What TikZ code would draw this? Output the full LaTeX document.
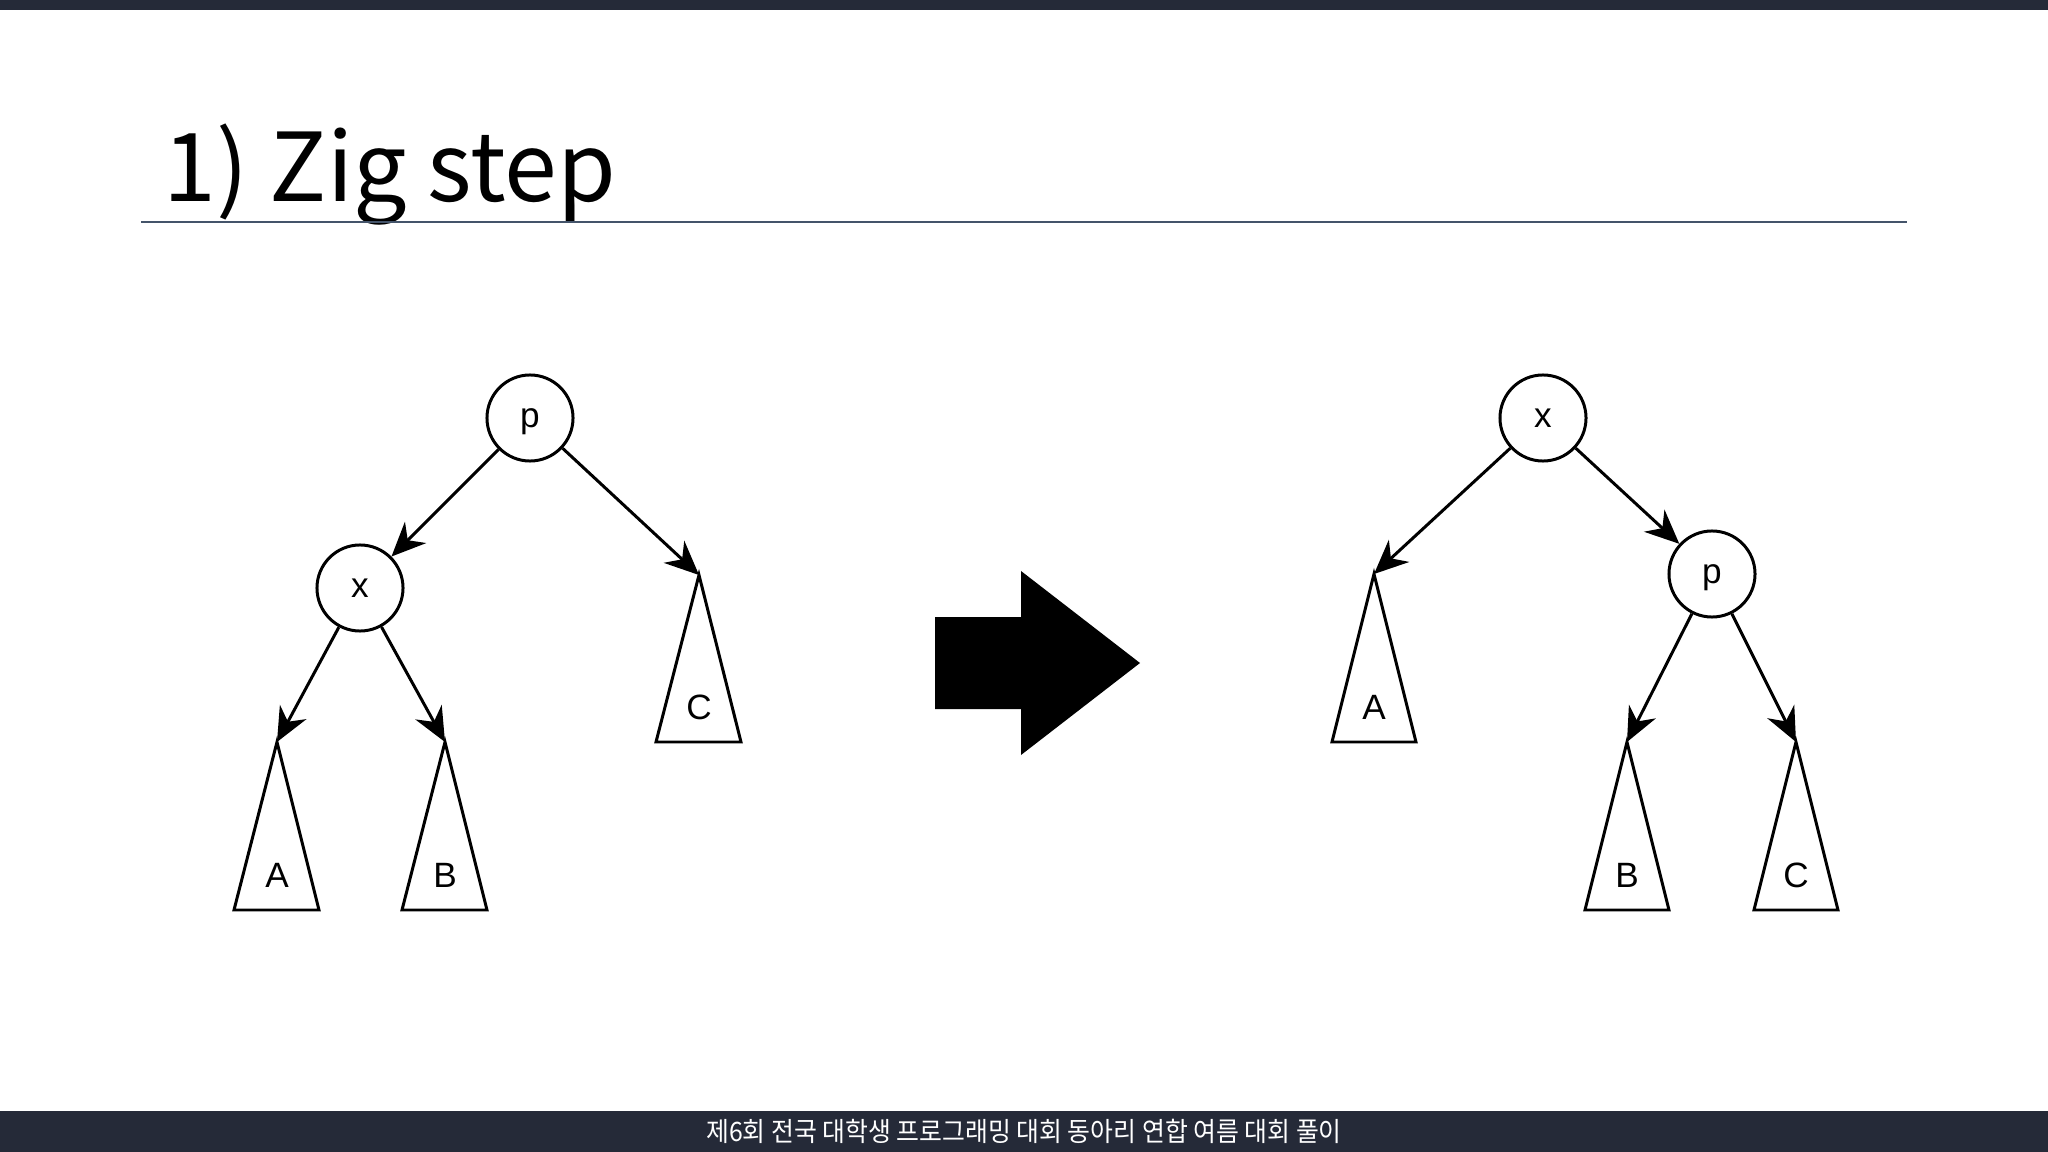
\documentclass[tikz,border=0pt]{standalone}
\usepackage{fontspec}
\setmainfont{Liberation Sans}
\newfontfamily\krfont{Noto Sans CJK KR}
\usetikzlibrary{arrows.meta}

\definecolor{barcol}{HTML}{252A38}
\definecolor{rulecol}{HTML}{44546A}

\tikzset{
  knot/.style={circle,draw,line width=0.85pt,minimum size=0.86cm,inner sep=0pt,text height=1ex,text depth=0pt,font=\fontsize{10}{12}\selectfont},
  subtree/.style={line width=0.85pt,line join=miter},
  lbl/.style={inner sep=0pt,font=\fontsize{10}{12}\selectfont},
  link/.style={line width=0.85pt,-{Stealth[length=0.34cm,width=0.3cm,inset=0.11cm]}}
}

\begin{document}
\begin{tikzpicture}[x=0.01cm,y=-0.01cm]

\useasboundingbox (0,0) rectangle (2048,1152);
\fill[white] (0,0) rectangle (2048,1152);
\fill[barcol] (0,0) rectangle (2048,10);
\fill[barcol] (0,1111) rectangle (2048,1152);

\node[anchor=base west,inner sep=0pt,font=\krfont\fontsize{27}{32}\selectfont] (title) at (163,202) {1) Zig step};
\draw[rulecol,line width=0.6pt] (141,222) -- (1907,222);
\node[text=white,inner sep=0pt,xscale=0.93,font=\krfont\fontsize{7.6}{9}\selectfont] (foot) at (1024,1131) {제6회 전국 대학생 프로그래밍 대회 동아리 연합 여름 대회 풀이};

% before
\node[knot] (p1) at (530,418) {p};
\node[knot] (x1) at (360,588) {x};
\coordinate (ta1) at (277,742);
\coordinate (tb1) at (445,742);
\coordinate (tc1) at (699,575);
\draw[subtree] (ta1) -- (319,910) -- (234,910) -- cycle;
\draw[subtree] (tb1) -- (487,910) -- (402,910) -- cycle;
\draw[subtree] (tc1) -- (741,742) -- (656,742) -- cycle;
\node[lbl] (la1) at (277,875) {A};
\node[lbl] (lb1) at (445,875) {B};
\node[lbl] (lc1) at (699,707) {C};

\path[link] (p1) edge (x1) (p1) edge (tc1) (x1) edge (ta1) (x1) edge (tb1);

% big arrow
\fill (935,617) -- (1021,617) -- (1021,571) -- (1140,663) -- (1021,755) -- (1021,709) -- (935,709) -- cycle;

% after
\node[knot] (x2) at (1543,418) {x};
\node[knot] (p2) at (1712,574) {p};
\coordinate (ta2) at (1374,574);
\coordinate (tb2) at (1627,742);
\coordinate (tc2) at (1796,742);
\draw[subtree] (ta2) -- (1416,742) -- (1332,742) -- cycle;
\draw[subtree] (tb2) -- (1669,910) -- (1585,910) -- cycle;
\draw[subtree] (tc2) -- (1838,910) -- (1754,910) -- cycle;
\node[lbl] (la2) at (1374,707) {A};
\node[lbl] (lb2) at (1627,875) {B};
\node[lbl] (lc2) at (1796,875) {C};

\path[link] (x2) edge (ta2) (x2) edge (p2) (p2) edge (tb2) (p2) edge (tc2);

\end{tikzpicture}
\end{document}
